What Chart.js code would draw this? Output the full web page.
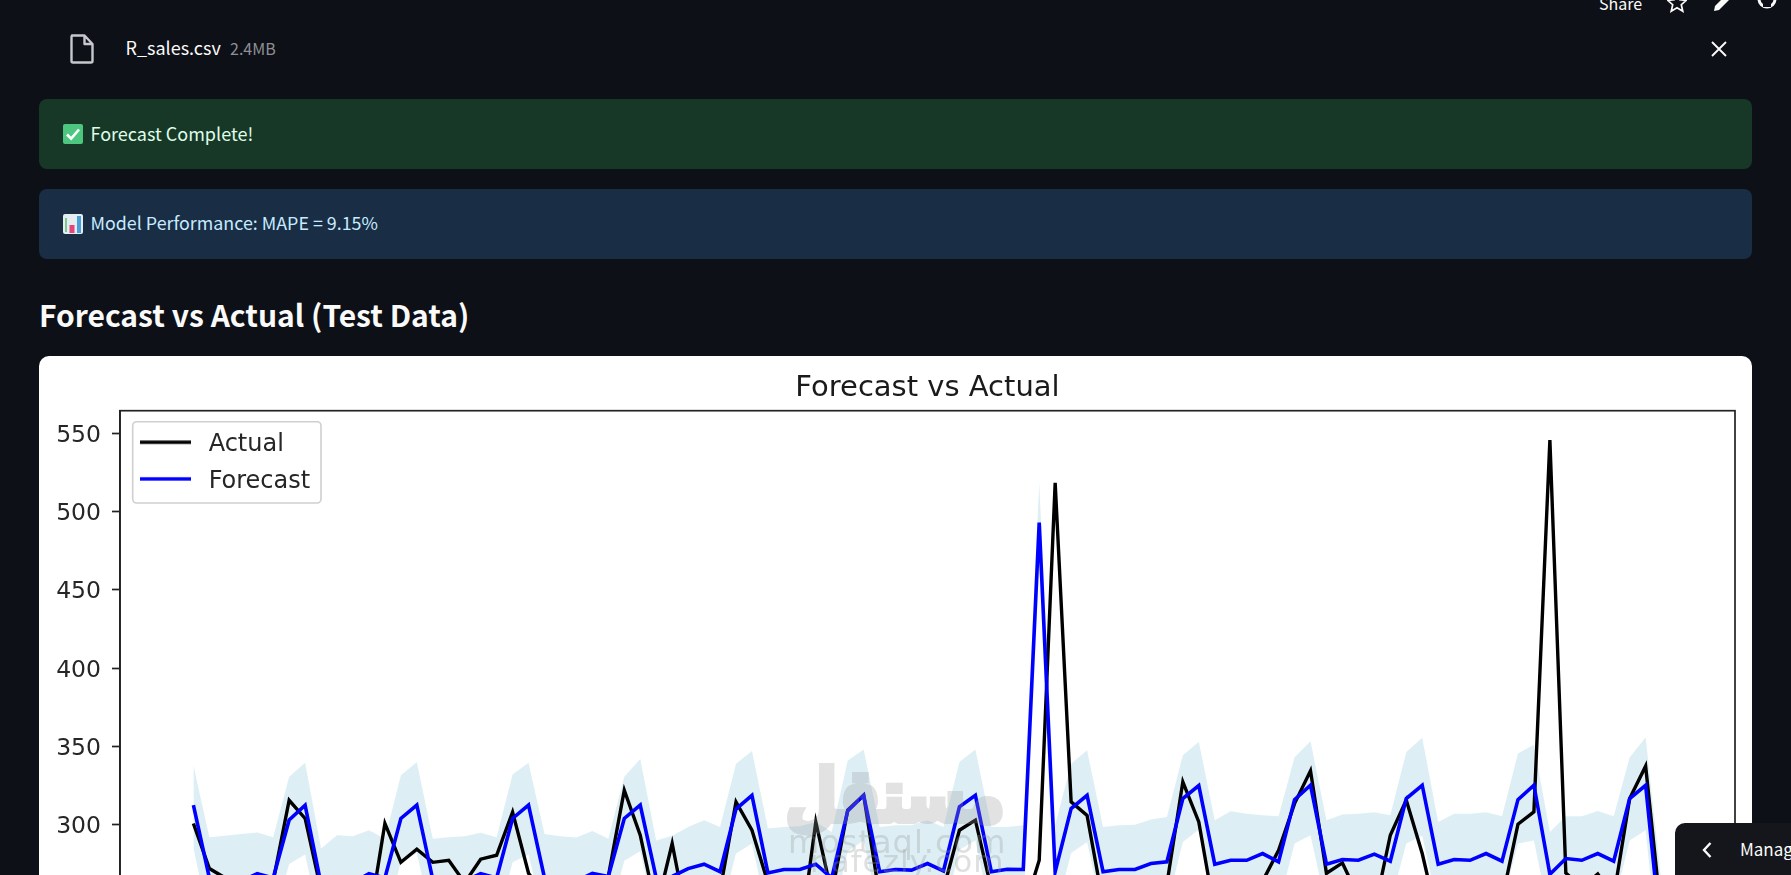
<!DOCTYPE html>
<html lang="en">
<head>
<meta charset="utf-8">
<title>Forecast vs Actual</title>
<script src="https://cdn.jsdelivr.net/npm/chart.js@4"></script>
<style>
html,body{margin:0;padding:0;width:1791px;height:875px;overflow:hidden;background:#0d1016;}
#page{position:relative;width:1791px;height:875px;overflow:hidden;background:#0d1016;font-family:"Noto Sans CJK SC","Noto Sans",sans-serif;}
.t{position:absolute;white-space:nowrap;line-height:1;}
.box{position:absolute;left:39px;width:1713px;height:70px;border-radius:8px;}
#card{position:absolute;left:39px;top:356px;width:1713px;height:760px;background:#fff;border-radius:10px;overflow:hidden;}
#chartWrap{position:absolute;left:0;top:0;width:1713px;height:759px;}
#manage{position:absolute;left:1675px;top:823px;width:116px;height:52px;background:#14161b;border-top-left-radius:10px;overflow:hidden;}
.wm{position:absolute;white-space:nowrap;line-height:1;pointer-events:none;}
svg{position:absolute;}
</style>
</head>
<body>
<div id="page">
  <div class="t" style="left:1599px;top:-5px;font-size:16px;color:#fafafa;">Share</div>
  <svg style="left:1667px;top:-8px" width="20" height="22" viewBox="0 0 20 22"><path d="M10 1.5l2.7 6.2 6.6.6-5 4.4 1.5 6.6L10 15.8 4.2 19.3l1.5-6.6-5-4.4 6.6-.6z" fill="none" stroke="#fafafa" stroke-width="1.7"/></svg>
  <svg style="left:1713px;top:-6px" width="18" height="18" viewBox="0 0 18 18"><path d="M1 17l1-5L12 2l4 4L6 16z" fill="#fafafa"/></svg>
  <svg style="left:1757px;top:-8px" width="20" height="22" viewBox="0 0 20 22"><circle cx="10" cy="7" r="8" fill="none" stroke="#fafafa" stroke-width="3"/><rect x="6" y="-2" width="8" height="17" fill="#0d1016"/></svg>

  <svg style="left:70px;top:34px" width="24" height="30" viewBox="0 0 24 30"><path d="M2 1.5h12.5L22.5 10v17a1.5 1.5 0 0 1-1.5 1.5H3A1.5 1.5 0 0 1 1.5 27V3A1.5 1.5 0 0 1 3 1.5z M14.5 1.5V10h8" fill="none" stroke="#c6c8cc" stroke-width="2.4" stroke-linejoin="round"/></svg>
  <div class="t" style="left:125.5px;top:38px;font-size:18px;color:#fafafa;">R_sales.csv</div>
  <div class="t" style="left:230px;top:40px;font-size:16px;color:#8d8f95;">2.4MB</div>
  <svg style="left:1710px;top:40px" width="18" height="18" viewBox="0 0 18 18"><path d="M2 2l14 14M16 2L2 16" stroke="#fafafa" stroke-width="1.9"/></svg>

  <div class="box" style="top:99px;background:#183827;"></div>
  <svg style="left:63px;top:124px" width="20" height="20" viewBox="0 0 20 20"><rect width="20" height="20" rx="2" fill="#4dc77f"/><path d="M4 10.5l4.2 4.2L16 5.5" fill="none" stroke="#fff" stroke-width="2.6"/></svg>
  <div class="t" style="left:90.5px;top:124px;font-size:18px;color:#dffde9;">Forecast Complete!</div>

  <div class="box" style="top:189px;background:#192d45;"></div>
  <svg style="left:63px;top:214px" width="20" height="20" viewBox="0 0 20 20"><rect width="20" height="20" rx="2" fill="#e4eef0"/><rect x="2" y="4" width="2" height="14" fill="#7fc98f"/><rect x="6.5" y="11" width="5" height="8" fill="#e8447c"/><rect x="14" y="2" width="4" height="17" fill="#4b9fd8"/></svg>
  <div class="t" style="left:90.5px;top:214px;font-size:17.85px;color:#c7ebff;">Model Performance: MAPE = 9.15%</div>

  <div class="t" style="left:39px;top:299px;font-size:30px;font-weight:600;color:#fafafa;">Forecast vs Actual (Test Data)</div>

  <div id="card"><div id="chartWrap"><canvas id="chart"></canvas></div></div>

  <div class="wm" dir="rtl" lang="ar" style="left:770px;top:766px;width:250px;text-align:center;font-family:'DejaVu Sans';font-weight:700;font-size:60px;color:rgb(150,150,150);opacity:.28;-webkit-text-stroke:5px rgb(150,150,150);transform:scaleY(1.2);">مستقل</div>
  <div class="wm" style="left:788px;top:826px;font-family:'DejaVu Sans';font-size:32px;letter-spacing:1px;color:rgba(150,150,150,.3);">mostaql.com</div>
  <div class="wm" style="left:810px;top:846px;font-family:'DejaVu Sans';font-size:31px;letter-spacing:1px;color:rgba(150,150,150,.3);">nafezly.com</div>

  <div id="manage">
    <svg style="left:26px;top:18px" width="12" height="18" viewBox="0 0 12 18"><path d="M9.5 2L3 9l6.5 7" fill="none" stroke="#fafafa" stroke-width="2.4"/></svg>
    <div class="t" style="left:65px;top:17px;font-size:17px;color:#fafafa;">Manage app</div>
  </div>
</div>
<script>
const chartTitle = "Forecast vs Actual";
const seriesNames = ["Actual", "Forecast"];
const periods = [0,1,2,3,4,5,6,7,8,9,10,11,12,13,14,15,16,17,18,19,20,21,22,23,24,25,26,27,28,29,30,31,32,33,34,35,36,37,38,39,40,41,42,43,44,45,46,47,48,49,50,51,52,53,54,55,56,57,58,59,60,61,62,63,64,65,66,67,68,69,70,71,72,73,74,75,76,77,78,79,80,81,82,83,84,85,86,87,88,89,90,91,92];
const yTickValues = [200,250,300,350,400,450,500,550];
const actual = [
300.8,272,266,260,258,264,315.6,
304,258,254,252,238,300.8,276,
284.4,276,277.3,263,278,280.5,308,
269,255,250,252,256,267,322,
293.3,246,288,236,242,258,314.6,
296.5,263,248,226,301.8,256,309.3,
318.8,254,250,248,252,259,296.5,
302.9,259,254,244,277.3,518.3,314.6,
306,250,252,254,256,262,327.4,
301.8,243.7,246,245,264,283.7,313.5,
334.4,269,275.6,254,245,293.3,315.7,
281.6,238,240,243,246,252,300.3,
308.2,545.6,269.2,260,268.5,254,316.7,
337.4,240];
const forecast = [
312.5,266,264,264,268.8,266,303,
312.5,262,263,263,268.8,266,304,
312.5,265,264,264,268.8,266,304,
312.5,266,264,264,269,267,304,
312.5,266,267,272,274.8,270,310,
318.8,269.2,271.4,271.4,274.8,266,308.8,
318.8,270,271.4,271,275.2,270.5,311.4,
318.8,270,271.6,271.4,492.8,270,310.3,
318.8,270,271.4,271.4,275.2,276.3,316.7,
325,274.8,277.3,277.3,281.6,276.3,316,
325.2,274.8,277.8,277.3,281.2,276.7,316.7,
325.2,274.8,277.8,277.3,281.6,276.7,316,
325.2,268.4,278.4,277.3,281.6,276.7,316.7,
325.2,225];
const upperBound = [
338,292,293,294,295,292,330.6,
339.5,284.8,293.3,292.7,296.5,291,331.6,
340,291,292,292.7,294.8,292,332,
339.5,294,292.7,291.8,296,291,330.6,
342,290,293,298.6,302.9,298.6,339,
347,297.6,298.6,299,301.8,295.4,341,
348,298.6,299.7,299.7,302.9,298.6,340,
348,298.6,298.6,299.7,518,299.7,339,
347.6,298.6,299.7,300,303.3,305,344.4,
352.9,302.9,308.6,307,306,305.4,343,
353.3,302.9,306.5,307,308,306,346.5,
355.5,301.8,307,307,308,305.4,345.5,
351,295.4,305.4,305.4,308.8,305.4,343,
355.7,262];
const lowerBound = [
285,238,236,236,241,238,275,
281,234,235,235,241,238,276,
282,237,236,236,241,238,276,
281,238,236,236,241,239,277,
283,238,239,244,247,242,281.6,
288,241,243,243,247,238,283,
290,242,243,243,247,242,284,
290,242,244,243,465,242,282,
289,242,243,243,247,248,289,
297,247,249,249,254,248,288,
293.3,247,250,249,253,249,288,
293,247,250,249,254,249,288,
290,240,251,249,254,249,290,
296.5,198];

const pts = arr => arr.map((v,i)=>({x:periods[i],y:v}));

function legendLine(color){
  const c = document.createElement('canvas');
  c.width = 51; c.height = 20;
  const g = c.getContext('2d');
  g.fillStyle = color;
  g.fillRect(0, 5.3, 51, 3.4);
  return c;
}
const legendStyles = [legendLine('#000'), legendLine('#0000ff')];

const axesFrame = {
  id:'axesFrame',
  afterLayout(chart){
    const l = chart.legend, a = chart.chartArea;
    if(l){ l.left = a.left + 9.3; l.top = a.top + 9.8; l.right = l.left + 200; l.bottom = l.top + 100; }
  },
  beforeDraw(chart){
    const {ctx,chartArea:a} = chart;
    ctx.save();
    ctx.strokeStyle='#cfcfcf'; ctx.lineWidth=1.6; ctx.fillStyle='#fff';
    ctx.beginPath(); ctx.roundRect(a.left+12.7,a.top+11,188.3,81.3,4); ctx.fill(); ctx.stroke();
    ctx.restore();
  },
  afterDraw(chart){
    const {ctx,chartArea:a} = chart;
    ctx.save();
    ctx.strokeStyle='#222'; ctx.lineWidth=1.7;
    ctx.strokeRect(a.left,a.top,a.right-a.left,a.bottom-a.top);
    ctx.restore();
  }
};

new Chart(document.getElementById('chart'),{
  type:'line',
  plugins:[axesFrame],
  data:{datasets:[
    {label:seriesNames[0],data:pts(actual),borderColor:'#000',backgroundColor:'#000',borderWidth:3.4,pointRadius:0,tension:0,fill:false,order:2},
    {label:seriesNames[1],data:pts(forecast),borderColor:'#0000ff',backgroundColor:'#0000ff',borderWidth:3.6,pointRadius:0,tension:0,fill:false,order:1},
    {label:'',data:pts(upperBound),borderWidth:0,borderColor:'rgba(0,0,0,0)',pointRadius:0,tension:0,backgroundColor:'rgba(173,216,230,.42)',fill:'+1',order:3},
    {label:'',data:pts(lowerBound),borderWidth:0,borderColor:'rgba(0,0,0,0)',pointRadius:0,tension:0,fill:false,order:3}
  ]},
  options:{
    responsive:true,maintainAspectRatio:false,animation:false,devicePixelRatio:1,
    events:[],
    layout:{padding:{left:0,right:17,top:0,bottom:60}},
    plugins:{
      tooltip:{enabled:false},
      title:{display:true,text:chartTitle,fullSize:false,color:'#1a1a1a',font:{family:'DejaVu Sans',size:29,weight:'normal',lineHeight:1.2},padding:{top:15,bottom:4.9}},
      legend:{
        display:true,position:'chartArea',align:'start',
        labels:{
          font:{family:'DejaVu Sans',size:24},color:'#262626',
          usePointStyle:true,pointStyleWidth:47,boxHeight:24,padding:12.7,
          generateLabels(chart){
            return Chart.defaults.plugins.legend.labels.generateLabels(chart)
              .filter(i=>seriesNames.includes(i.text))
              .sort((p,q)=>p.datasetIndex-q.datasetIndex)
              .map(i=>({...i,text:' '+i.text,pointStyle:legendStyles[i.datasetIndex]}));
          }
        }
      }
    },
    scales:{
      x:{type:'linear',min:-4.6,max:96.6,
         ticks:{display:false},
         grid:{display:false},border:{display:false},
         afterFit(s){s.height=0;}},
      y:{type:'linear',min:153,max:564.3,
         afterFit(s){s.width=81;},
         afterBuildTicks(s){s.ticks=yTickValues.map(v=>({value:v}));},
         ticks:{color:'#262626',font:{family:'DejaVu Sans',size:23.5},padding:11,labelOffset:2.5},
         grid:{drawOnChartArea:false,drawTicks:true,tickLength:8,tickColor:'#222',tickWidth:1.7},
         border:{display:true,color:'#222',width:1.7}}
    }
  }
});
</script>
</body>
</html>
